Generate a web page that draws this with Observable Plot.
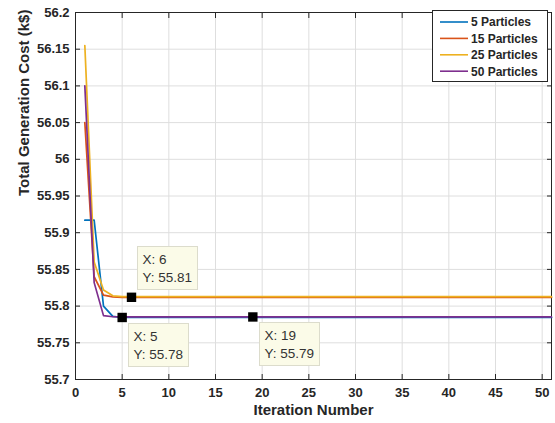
<!DOCTYPE html>
<html>
<head>
<meta charset="utf-8">
<script src="https://cdn.jsdelivr.net/npm/d3@7"></script>
<script src="https://cdn.jsdelivr.net/npm/@observablehq/plot@0.6"></script>
<style>
  body { margin: 0; background: #fff; }
  #chart svg { display: block; }
</style>
</head>
<body>
<div id="chart"></div>
<script>
// Convergence of total generation cost for different swarm sizes
const iterations = [1, 2, 3, 4, 5, 6, 7, 8, 9, 10, 11, 12, 13, 14, 15, 16, 17, 18, 19, 20,
  21, 22, 23, 24, 25, 26, 27, 28, 29, 30, 31, 32, 33, 34, 35, 36, 37, 38, 39, 40,
  41, 42, 43, 44, 45, 46, 47, 48, 49, 50, 51];

const seriesNames = ["5 Particles", "15 Particles", "25 Particles", "50 Particles"];
const seriesColors = ["#0072BD", "#D95319", "#EDB120", "#7E2F8E"];

const cost5 = [55.917, 55.917, 55.800, 55.786, 55.7845, 55.7845, 55.7845, 55.7845, 55.7845, 55.7845,
  55.7845, 55.7845, 55.7845, 55.7845, 55.7845, 55.7845, 55.7845, 55.7845, 55.7845, 55.7845,
  55.7845, 55.7845, 55.7845, 55.7845, 55.7845, 55.7845, 55.7845, 55.7845, 55.7845, 55.7845,
  55.7845, 55.7845, 55.7845, 55.7845, 55.7845, 55.7845, 55.7845, 55.7845, 55.7845, 55.7845,
  55.7845, 55.7845, 55.7845, 55.7845, 55.7845, 55.7845, 55.7845, 55.7845, 55.7845, 55.7845, 55.7845];

const cost15 = [56.050, 55.840, 55.815, 55.8125, 55.812, 55.812, 55.812, 55.812, 55.812, 55.812,
  55.812, 55.812, 55.812, 55.812, 55.812, 55.812, 55.812, 55.812, 55.812, 55.812,
  55.812, 55.812, 55.812, 55.812, 55.812, 55.812, 55.812, 55.812, 55.812, 55.812,
  55.812, 55.812, 55.812, 55.812, 55.812, 55.812, 55.812, 55.812, 55.812, 55.812,
  55.812, 55.812, 55.812, 55.812, 55.812, 55.812, 55.812, 55.812, 55.812, 55.812, 55.812];

const cost25 = [56.155, 55.860, 55.822, 55.814, 55.8128, 55.8128, 55.8128, 55.8128, 55.8128, 55.8128,
  55.8128, 55.8128, 55.8128, 55.8128, 55.8128, 55.8128, 55.8128, 55.8128, 55.8128, 55.8128,
  55.8128, 55.8128, 55.8128, 55.8128, 55.8128, 55.8128, 55.8128, 55.8128, 55.8128, 55.8128,
  55.8128, 55.8128, 55.8128, 55.8128, 55.8128, 55.8128, 55.8128, 55.8128, 55.8128, 55.8128,
  55.8128, 55.8128, 55.8128, 55.8128, 55.8128, 55.8128, 55.8128, 55.8128, 55.8128, 55.8128, 55.8128];

const cost50 = [56.100, 55.832, 55.787, 55.7855, 55.7852, 55.7852, 55.7852, 55.7852, 55.7852, 55.7852,
  55.7852, 55.7852, 55.7852, 55.7852, 55.7852, 55.7852, 55.7852, 55.7852, 55.7852, 55.7852,
  55.7852, 55.7852, 55.7852, 55.7852, 55.7852, 55.7852, 55.7852, 55.7852, 55.7852, 55.7852,
  55.7852, 55.7852, 55.7852, 55.7852, 55.7852, 55.7852, 55.7852, 55.7852, 55.7852, 55.7852,
  55.7852, 55.7852, 55.7852, 55.7852, 55.7852, 55.7852, 55.7852, 55.7852, 55.7852, 55.7852, 55.7852];

const xTicks = [0, 5, 10, 15, 20, 25, 30, 35, 40, 45, 50];
const yTicks = [55.7, 55.75, 55.8, 55.85, 55.9, 55.95, 56, 56.05, 56.1, 56.15, 56.2];

// Data tips: which series and which iteration
const tipSeries = ["15 Particles", "5 Particles", "50 Particles"];
const tipIterations = [6, 5, 19];

const allCosts = [cost5, cost15, cost25, cost50];
const rows = seriesNames.flatMap((name, s) =>
  iterations.map((it, i) => ({series: name, iteration: it, cost: allCosts[s][i]})));

const tips = tipSeries.map((name, k) => {
  const s = seriesNames.indexOf(name);
  const i = iterations.indexOf(tipIterations[k]);
  return {series: name, iteration: iterations[i], cost: allCosts[s][i]};
});

const font = "'Liberation Sans', Arial, sans-serif";
const ink = "#262626";
const shortNum = d => String(+d.toFixed(2));

const chart = Plot.plot({
  width: 555,
  height: 423,
  marginLeft: 75,
  marginRight: 4,
  marginTop: 12,
  marginBottom: 44,
  style: {fontFamily: font, fontSize: "13px", fontWeight: "bold", color: ink, background: "#fff"},
  x: {domain: [0, 51]},
  y: {domain: [55.7, 56.2]},
  color: {domain: seriesNames, range: seriesColors},
  marks: [
    Plot.gridX(xTicks, {stroke: "#dedede", strokeOpacity: 1}),
    Plot.gridY(yTicks, {stroke: "#dedede", strokeOpacity: 1}),
    Plot.frame({stroke: ink, strokeWidth: 1}),
    Plot.axisX(xTicks, {anchor: "bottom", tickSize: -5, tickPadding: 13, tickFormat: shortNum, label: null, stroke: ink, fill: ink}),
    Plot.axisX(xTicks, {anchor: "top", tickSize: -5, tickFormat: () => "", label: null, stroke: ink}),
    Plot.axisY(yTicks, {anchor: "left", tickSize: -5, tickPadding: 11, tickFormat: shortNum, label: null, stroke: ink, fill: ink}),
    Plot.axisY(yTicks, {anchor: "right", tickSize: -5, tickFormat: () => "", label: null, stroke: ink}),
    Plot.line(rows, {x: "iteration", y: "cost", z: "series", stroke: "series", strokeWidth: 1.7}),
    Plot.dot(tips, {x: "iteration", y: "cost", symbol: "square", r: 5.3, fill: "#000", stroke: "none"}),
    Plot.text(["Iteration Number"], {frameAnchor: "bottom", dy: 35, fontSize: 15, fontWeight: "bold", fill: ink}),
    Plot.text(["Total Generation Cost (k$)"], {frameAnchor: "left", dx: -51, rotate: -90, fontSize: 15, fontWeight: "bold", fill: ink})
  ]
});

document.getElementById("chart").appendChild(chart);

const svg = d3.select(chart);
const xs = chart.scale("x");
const ys = chart.scale("y");

// Data tip boxes next to the markers
const tipBoxes = [
  {dx: 6, dy: -51},
  {dx: 6.5, dy: 6},
  {dx: 6.5, dy: 6}
];
tips.forEach((t, k) => {
  const px = xs.apply(t.iteration);
  const py = ys.apply(t.cost);
  const left = Math.round(px + tipBoxes[k].dx) + 0.5;
  const top = Math.round(py + tipBoxes[k].dy) + 0.5;
  const g = svg.append("g").attr("text-anchor", "start");
  g.append("rect")
    .attr("x", left).attr("y", top)
    .attr("width", 60).attr("height", 43)
    .attr("fill", "#fbfbe8").attr("stroke", "#dcdccc").attr("stroke-width", 1);
  g.append("text")
    .attr("x", left + 5).attr("y", top + 17)
    .attr("font-family", font).attr("font-size", 13.5).attr("font-weight", "normal").attr("fill", "#333")
    .text(`X: ${t.iteration}`);
  g.append("text")
    .attr("x", left + 5).attr("y", top + 35)
    .attr("font-family", font).attr("font-size", 13.5).attr("font-weight", "normal").attr("fill", "#333")
    .text(`Y: ${t.cost.toFixed(2)}`);
});

// Legend box in the upper-right corner
const legend = svg.append("g").attr("text-anchor", "start");
legend.append("rect")
  .attr("x", 432.5).attr("y", 10.5).attr("width", 115).attr("height", 71)
  .attr("fill", "#fff").attr("stroke", ink).attr("stroke-width", 1);
seriesNames.forEach((name, i) => {
  const cy = 22 + i * 16.4;
  legend.append("line")
    .attr("x1", 440).attr("x2", 468).attr("y1", cy).attr("y2", cy)
    .attr("stroke", seriesColors[i]).attr("stroke-width", 1.6);
  legend.append("text")
    .attr("x", 471).attr("y", cy + 4.3)
    .attr("font-family", font).attr("font-size", 12).attr("font-weight", "bold").attr("fill", ink)
    .text(name);
});
</script>
</body>
</html>
